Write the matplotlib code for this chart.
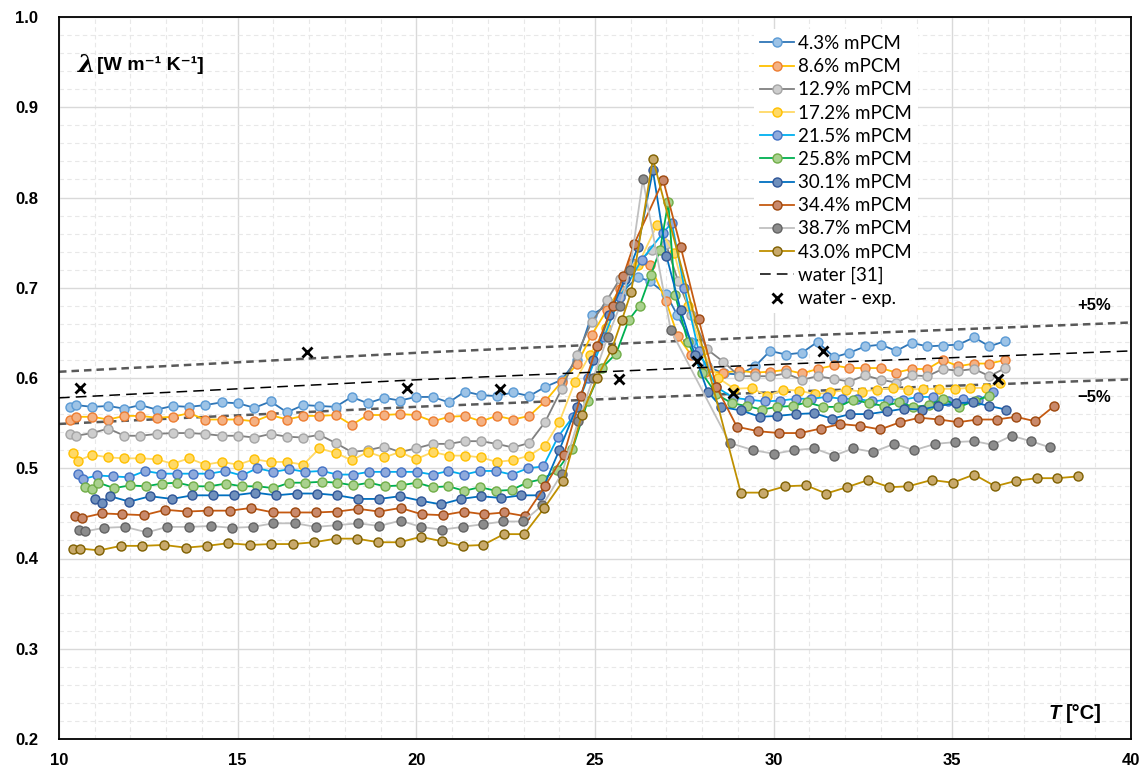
import matplotlib
matplotlib.use("Agg")
import matplotlib.pyplot as plt
from matplotlib.ticker import MultipleLocator

plt.rcParams['font.family'] = ['Lato', 'DejaVu Sans']
BOLD = ['Liberation Sans', 'DejaVu Sans']

# --- data ---
T_43 = [10.31, 10.48, 10.93, 11.38, 11.83, 12.28, 12.73, 13.18, 13.64, 14.09, 14.55, 15.01, 15.47, 15.92, 16.38, 16.84, 17.29, 17.74,
        18.19, 18.64, 19.10, 19.54, 19.99, 20.46, 20.91, 21.36, 21.81, 22.25, 22.71, 23.16, 23.60, 24.07,
        24.49, 24.91, 25.33, 25.75, 26.20, 26.54, 26.99, 27.30, 27.70, 28.13, 28.60, 29.04,
        29.48, 29.90, 30.34, 30.79, 31.23, 31.69, 32.12, 32.56, 33.00, 33.43, 33.86, 34.30, 34.73, 35.17, 35.61, 36.04, 36.48]
L_43 = [0.568, 0.570, 0.568, 0.569, 0.566, 0.570, 0.565, 0.569, 0.568, 0.570, 0.573, 0.572, 0.567, 0.574, 0.562, 0.570, 0.569, 0.568,
        0.579, 0.572, 0.578, 0.575, 0.579, 0.579, 0.573, 0.585, 0.581, 0.580, 0.584, 0.580, 0.590, 0.598,
        0.620, 0.670, 0.680, 0.695, 0.712, 0.707, 0.693, 0.670, 0.640, 0.613, 0.605, 0.604,
        0.613, 0.630, 0.626, 0.628, 0.640, 0.623, 0.628, 0.635, 0.637, 0.630, 0.639, 0.635, 0.636, 0.637, 0.645, 0.635, 0.641]

T_86 = [10.31, 10.48, 10.93, 11.38, 11.83, 12.28, 12.73, 13.18, 13.64, 14.09, 14.55, 15.01, 15.47, 15.92, 16.38, 16.84, 17.29, 17.74,
        18.19, 18.64, 19.10, 19.54, 19.99, 20.46, 20.91, 21.36, 21.81, 22.25, 22.71, 23.16, 23.60, 24.07,
        24.49, 24.91, 25.33, 25.70, 26.03, 26.54, 26.99, 27.32, 27.70, 28.08, 28.59, 29.04,
        29.48, 29.90, 30.34, 30.79, 31.23, 31.69, 32.12, 32.56, 33.00, 33.43, 33.86, 34.30, 34.73, 35.17, 35.61, 36.04, 36.48]
L_86 = [0.554, 0.557, 0.557, 0.554, 0.558, 0.558, 0.556, 0.557, 0.561, 0.554, 0.554, 0.554, 0.552, 0.559, 0.554, 0.558, 0.558, 0.559,
        0.548, 0.559, 0.559, 0.560, 0.559, 0.552, 0.557, 0.558, 0.552, 0.558, 0.554, 0.558, 0.574, 0.596,
        0.615, 0.648, 0.675, 0.699, 0.727, 0.725, 0.685, 0.646, 0.625, 0.607, 0.606, 0.608,
        0.606, 0.607, 0.609, 0.605, 0.610, 0.614, 0.611, 0.611, 0.611, 0.606, 0.610, 0.610, 0.620, 0.613, 0.616, 0.616, 0.620]

T_129 = [10.31, 10.48, 10.93, 11.38, 11.83, 12.28, 12.73, 13.18, 13.64, 14.09, 14.55, 15.01, 15.47, 15.92, 16.38, 16.84, 17.29, 17.74,
         18.19, 18.64, 19.10, 19.54, 19.99, 20.46, 20.91, 21.36, 21.81, 22.25, 22.71, 23.16, 23.60, 24.07,
         24.49, 24.91, 25.33, 25.70, 26.10, 26.59, 26.99, 27.32, 27.70, 28.13, 28.59, 29.04,
         29.48, 29.90, 30.34, 30.79, 31.23, 31.69, 32.12, 32.56, 33.00, 33.43, 33.86, 34.30, 34.73, 35.17, 35.61, 36.04, 36.48]
L_129 = [0.538, 0.536, 0.539, 0.544, 0.536, 0.536, 0.538, 0.539, 0.539, 0.538, 0.536, 0.536, 0.534, 0.538, 0.535, 0.534, 0.537, 0.528,
         0.518, 0.520, 0.524, 0.518, 0.522, 0.527, 0.527, 0.530, 0.530, 0.527, 0.523, 0.528, 0.551, 0.588,
         0.626, 0.662, 0.686, 0.710, 0.725, 0.742, 0.748, 0.708, 0.670, 0.632, 0.618, 0.602,
         0.602, 0.602, 0.605, 0.598, 0.602, 0.599, 0.596, 0.603, 0.598, 0.595, 0.603, 0.602, 0.610, 0.608, 0.610, 0.602, 0.611]

T_172 = [10.38, 10.52, 10.93, 11.38, 11.83, 12.28, 12.73, 13.18, 13.64, 14.09, 14.55, 15.01, 15.47, 15.92, 16.38, 16.84, 17.29, 17.74,
         18.19, 18.64, 19.10, 19.54, 19.99, 20.46, 20.91, 21.36, 21.81, 22.25, 22.71, 23.16, 23.60, 24.00,
         24.44, 24.86, 25.30, 25.70, 26.20, 26.74, 27.22, 27.60, 28.00, 28.45, 28.90,
         29.39, 29.82, 30.27, 30.72, 31.16, 31.58, 32.03, 32.46, 32.88, 33.33, 33.77, 34.19, 34.64, 35.08, 35.50, 35.94, 36.34]
L_172 = [0.517, 0.508, 0.515, 0.512, 0.511, 0.511, 0.510, 0.505, 0.511, 0.504, 0.507, 0.504, 0.510, 0.507, 0.507, 0.504, 0.522, 0.517,
         0.509, 0.518, 0.512, 0.518, 0.510, 0.518, 0.514, 0.514, 0.512, 0.507, 0.509, 0.514, 0.525, 0.551,
         0.596, 0.626, 0.655, 0.690, 0.725, 0.770, 0.738, 0.680, 0.630, 0.600, 0.588,
         0.589, 0.580, 0.587, 0.586, 0.582, 0.584, 0.587, 0.585, 0.587, 0.589, 0.587, 0.588, 0.588, 0.588, 0.589, 0.589, 0.595]

T_215 = [10.54, 10.66, 11.07, 11.52, 11.96, 12.41, 12.86, 13.31, 13.76, 14.21, 14.65, 15.11, 15.55, 16.00, 16.45, 16.89, 17.36, 17.79,
         18.22, 18.68, 19.12, 19.56, 20.01, 20.46, 20.90, 21.34, 21.78, 22.23, 22.67, 23.12, 23.55, 23.97, 24.38,
         24.80, 25.25, 25.70, 26.31, 26.91, 27.15, 27.50, 27.90, 28.40,
         28.87, 29.32, 29.75, 30.18, 30.63, 31.04, 31.49, 31.91, 32.33, 32.75, 33.19, 33.61, 34.05, 34.47, 34.89, 35.30, 35.73, 36.15]
L_215 = [0.494, 0.488, 0.492, 0.491, 0.490, 0.497, 0.494, 0.494, 0.494, 0.494, 0.497, 0.492, 0.500, 0.496, 0.499, 0.496, 0.497, 0.493,
         0.493, 0.496, 0.496, 0.496, 0.496, 0.493, 0.497, 0.493, 0.497, 0.497, 0.493, 0.500, 0.502, 0.535, 0.557,
         0.600, 0.645, 0.690, 0.731, 0.761, 0.772, 0.700, 0.630, 0.590,
         0.578, 0.576, 0.574, 0.575, 0.577, 0.577, 0.579, 0.577, 0.577, 0.574, 0.576, 0.576, 0.579, 0.579, 0.574, 0.577, 0.576, 0.584]

T_258 = [10.73, 10.93, 11.10, 11.54, 11.99, 12.43, 12.87, 13.31, 13.76, 14.21, 14.67, 15.11, 15.55, 16.00, 16.45, 16.88, 17.35, 17.79,
         18.24, 18.68, 19.12, 19.56, 20.01, 20.46, 20.90, 21.34, 21.78, 22.23, 22.67, 23.09, 23.53, 23.95, 24.37,
         24.80, 25.19, 25.59, 25.94, 26.25, 26.56, 26.82, 27.05, 27.24, 27.60, 28.00, 28.40, 28.83,
         29.25, 29.67, 30.10, 30.53, 30.94, 31.39, 31.81, 32.23, 32.67, 33.09, 33.52, 33.91, 34.36, 34.75, 35.20, 35.64, 36.04]
L_258 = [0.479, 0.477, 0.484, 0.478, 0.481, 0.480, 0.483, 0.484, 0.480, 0.480, 0.483, 0.480, 0.480, 0.478, 0.484, 0.484, 0.485, 0.484,
         0.481, 0.484, 0.480, 0.481, 0.484, 0.479, 0.480, 0.475, 0.479, 0.475, 0.476, 0.484, 0.488, 0.498, 0.521,
         0.575, 0.611, 0.627, 0.664, 0.680, 0.714, 0.742, 0.795, 0.692, 0.640, 0.605, 0.582, 0.572,
         0.569, 0.565, 0.568, 0.569, 0.573, 0.568, 0.568, 0.576, 0.572, 0.569, 0.573, 0.568, 0.570, 0.577, 0.568, 0.575, 0.580]

T_301 = [11.01, 11.19, 11.43, 11.97, 12.55, 13.16, 13.73, 14.32, 14.90, 15.49, 16.07, 16.65, 17.23, 17.79,
         18.38, 18.96, 19.54, 20.12, 20.69, 21.25, 21.81, 22.37, 22.93, 23.46, 24.00, 24.49,
         24.95, 25.40, 25.85, 26.20, 26.62, 27.00, 27.40, 27.80, 28.15,
         28.53, 29.09, 29.62, 30.10, 30.63, 31.13, 31.63, 32.14, 32.65, 33.17, 33.65, 34.14, 34.61, 35.10, 35.59, 36.04, 36.50]
L_301 = [0.466, 0.462, 0.469, 0.463, 0.469, 0.466, 0.470, 0.470, 0.470, 0.473, 0.470, 0.472, 0.472, 0.470,
         0.466, 0.466, 0.469, 0.464, 0.460, 0.466, 0.469, 0.467, 0.470, 0.470, 0.520, 0.568,
         0.620, 0.670, 0.710, 0.745, 0.830, 0.735, 0.675, 0.625, 0.585,
         0.568, 0.564, 0.557, 0.558, 0.560, 0.561, 0.555, 0.560, 0.560, 0.563, 0.566, 0.565, 0.569, 0.572, 0.573, 0.569, 0.565]

T_344 = [10.45, 10.64, 11.20, 11.77, 12.38, 12.98, 13.57, 14.17, 14.79, 15.37, 16.00, 16.61, 17.19, 17.79,
         18.38, 18.96, 19.56, 20.15, 20.74, 21.32, 21.89, 22.46, 23.04, 23.60, 24.13,
         24.60, 25.05, 25.49, 25.79, 26.09, 26.91, 27.40, 27.90, 28.40,
         28.97, 29.57, 30.16, 30.74, 31.32, 31.86, 32.42, 32.98, 33.54, 34.08, 34.64, 35.17, 35.70, 36.24, 36.78, 37.32, 37.85]
L_344 = [0.447, 0.445, 0.450, 0.449, 0.448, 0.454, 0.452, 0.453, 0.453, 0.456, 0.451, 0.451, 0.451, 0.452,
         0.455, 0.452, 0.456, 0.449, 0.448, 0.452, 0.449, 0.451, 0.447, 0.480, 0.515,
         0.580, 0.635, 0.680, 0.713, 0.748, 0.819, 0.745, 0.665, 0.590,
         0.546, 0.541, 0.539, 0.539, 0.544, 0.549, 0.547, 0.543, 0.551, 0.556, 0.554, 0.551, 0.554, 0.554, 0.557, 0.552, 0.569]

T_387 = [10.57, 10.73, 11.26, 11.85, 12.46, 13.03, 13.65, 14.24, 14.83, 15.42, 16.00, 16.61, 17.19, 17.79,
         18.38, 18.96, 19.56, 20.12, 20.71, 21.30, 21.87, 22.43, 22.99, 23.53, 24.07, 24.53,
         24.95, 25.35, 25.70, 25.98, 26.34, 27.12,
         28.77, 29.43, 30.01, 30.57, 31.13, 31.69, 32.23, 32.79, 33.37, 33.93, 34.52, 35.08, 35.61, 36.13, 36.66, 37.20, 37.74]
L_387 = [0.432, 0.430, 0.434, 0.435, 0.429, 0.435, 0.435, 0.436, 0.434, 0.435, 0.439, 0.439, 0.435, 0.437,
         0.439, 0.436, 0.442, 0.435, 0.432, 0.435, 0.438, 0.441, 0.441, 0.459, 0.494, 0.552,
         0.600, 0.645, 0.680, 0.720, 0.820, 0.653,
         0.528, 0.520, 0.516, 0.520, 0.522, 0.514, 0.522, 0.518, 0.527, 0.520, 0.527, 0.529, 0.530, 0.526, 0.536, 0.530, 0.523]

T_430 = [10.40, 10.59, 11.13, 11.73, 12.33, 12.94, 13.55, 14.14, 14.74, 15.35, 15.93, 16.54, 17.14, 17.75,
         18.33, 18.94, 19.54, 20.12, 20.73, 21.30, 21.87, 22.45, 23.02, 23.58, 24.11, 24.63,
         25.05, 25.47, 25.75, 26.01, 26.62,
         29.08, 29.71, 30.32, 30.91, 31.47, 32.05, 32.65, 33.24, 33.77, 34.42, 35.01, 35.61, 36.20, 36.78, 37.36, 37.94, 38.53]
L_430 = [0.410, 0.411, 0.409, 0.414, 0.414, 0.415, 0.412, 0.414, 0.417, 0.415, 0.416, 0.416, 0.418, 0.422,
         0.422, 0.418, 0.418, 0.424, 0.419, 0.414, 0.415, 0.427, 0.427, 0.456, 0.486, 0.559,
         0.600, 0.632, 0.664, 0.695, 0.843,
         0.473, 0.473, 0.480, 0.481, 0.472, 0.479, 0.487, 0.479, 0.480, 0.487, 0.484, 0.493, 0.480, 0.486, 0.489, 0.489, 0.491]

labels = ["4.3% mPCM", "8.6% mPCM", "12.9% mPCM", "17.2% mPCM", "21.5% mPCM",
          "25.8% mPCM", "30.1% mPCM", "34.4% mPCM", "38.7% mPCM", "43.0% mPCM"]

# water reference [31] and measured water
T_water = [10, 20, 30, 40]
L_water = [0.578, 0.598, 0.615, 0.630]
T_exp = [10.59, 16.94, 19.73, 22.34, 25.66, 27.85, 28.86, 31.37, 36.29]
L_exp = [0.589, 0.629, 0.589, 0.588, 0.599, 0.619, 0.583, 0.630, 0.599]

x_ticks = [10, 15, 20, 25, 30, 35, 40]
y_ticks = [0.2, 0.3, 0.4, 0.5, 0.6, 0.7, 0.8, 0.9, 1.0]

series = [(T_43, L_43), (T_86, L_86), (T_129, L_129), (T_172, L_172), (T_215, L_215),
          (T_258, L_258), (T_301, L_301), (T_344, L_344), (T_387, L_387), (T_430, L_430)]

# line colour, marker face, marker edge
styles = [("#2E75B6", "#9DC3E6", "#5B9BD5"),
          ("#FFC000", "#F4B183", "#ED7D31"),
          ("#808080", "#CDCDCD", "#A5A5A5"),
          ("#FFD966", "#FFD966", "#FFC000"),
          ("#00B0F0", "#8FAADC", "#4472C4"),
          ("#00B050", "#A9D18E", "#70AD47"),
          ("#0070C0", "#7090BC", "#2F5597"),
          ("#C55A11", "#C9896B", "#9E480E"),
          ("#C0C0C0", "#8C8C8C", "#636363"),
          ("#BF9000", "#C8A96B", "#7F6000")]

fig = plt.figure(figsize=(11.47, 7.78), dpi=100)
ax = fig.add_axes([59/1147, 1-739/778, (1131-59)/1147, (739-17)/778])

ax.set_xlim(10, 40)
ax.set_ylim(0.2, 1.0)
ax.set_xticks(x_ticks, [str(v) for v in x_ticks], fontweight='bold', fontsize=12, family=BOLD)
ax.set_yticks(y_ticks, ["%.1f" % v for v in y_ticks], fontweight='bold', fontsize=12, family=BOLD)
ax.xaxis.set_minor_locator(MultipleLocator(1))
ax.yaxis.set_minor_locator(MultipleLocator(0.02))
ax.grid(which='major', color='#D9D9D9', lw=1.0)
ax.grid(which='minor', color='#E8E8E8', lw=0.8, ls=(0, (4, 3)))
ax.set_axisbelow(True)
ax.tick_params(which='both', length=0)
ax.tick_params(axis='x', pad=10)
ax.tick_params(axis='y', pad=15)
for s in ax.spines.values():
    s.set_color('black')
    s.set_linewidth(1.3)

# +/-5 % band around the water reference
ax.plot(T_water, [v * 1.05 for v in L_water], color='#595959', lw=1.8, ls=(0, (3, 2)), zorder=2)
ax.plot(T_water, [v * 0.95 for v in L_water], color='#595959', lw=1.8, ls=(0, (3, 2)), zorder=2)

handles = []
for (t, l), (lc, mf, me), lab in zip(series, styles, labels):
    h, = ax.plot(t, l, color=lc, lw=1.3, marker='o', ms=6.5, mfc=mf, mec=me, mew=1.0,
                 label=lab, zorder=3)
    handles.append(h)

hw, = ax.plot(T_water, L_water, color='black', lw=1.1, ls=(0, (7, 4)), zorder=4, label='water [31]')
hx, = ax.plot(T_exp, L_exp, ls='none', marker='x', color='black', ms=7, mew=2, zorder=5,
              label='water - exp.')
handles += [hw, hx]

leg = ax.legend(handles=handles, loc='upper left', bbox_to_anchor=(745/1147, 1-20/778),
                bbox_transform=fig.transFigure, fontsize=13.5, frameon=True, fancybox=False,
                edgecolor='none', facecolor='white', framealpha=1, handlelength=1.8,
                handletextpad=0.25, labelspacing=0.33, borderpad=0.3)
leg.set_zorder(6)

# axis titles drawn inside the plot
ax.text(0.018, 0.934, "λ", transform=ax.transAxes, fontsize=18, fontweight='bold',
        fontstyle='italic', family='DejaVu Serif', va='center', ha='left')
ax.text(0.035, 0.934, "[W m⁻¹ K⁻¹]", transform=ax.transAxes, fontsize=14, fontweight='bold',
        family=BOLD, va='center', ha='left')
ax.text(0.9345, 0.036, "T", transform=ax.transAxes, fontsize=14.5, fontweight='bold',
        fontstyle='italic', family=BOLD, va='center', ha='right')
ax.text(0.939, 0.036, "[°C]", transform=ax.transAxes, fontsize=14.5, fontweight='bold',
        family=BOLD, va='center', ha='left')

fig.text(1077/1147, 1-305/778, "+5%", fontsize=12, fontweight='bold', family=BOLD,
         va='center', ha='left')
fig.text(1077/1147, 1-398/778, "\u22125%", fontsize=12, fontweight='bold', family=BOLD,
         va='center', ha='left')

fig.savefig("out.png", dpi=100)
